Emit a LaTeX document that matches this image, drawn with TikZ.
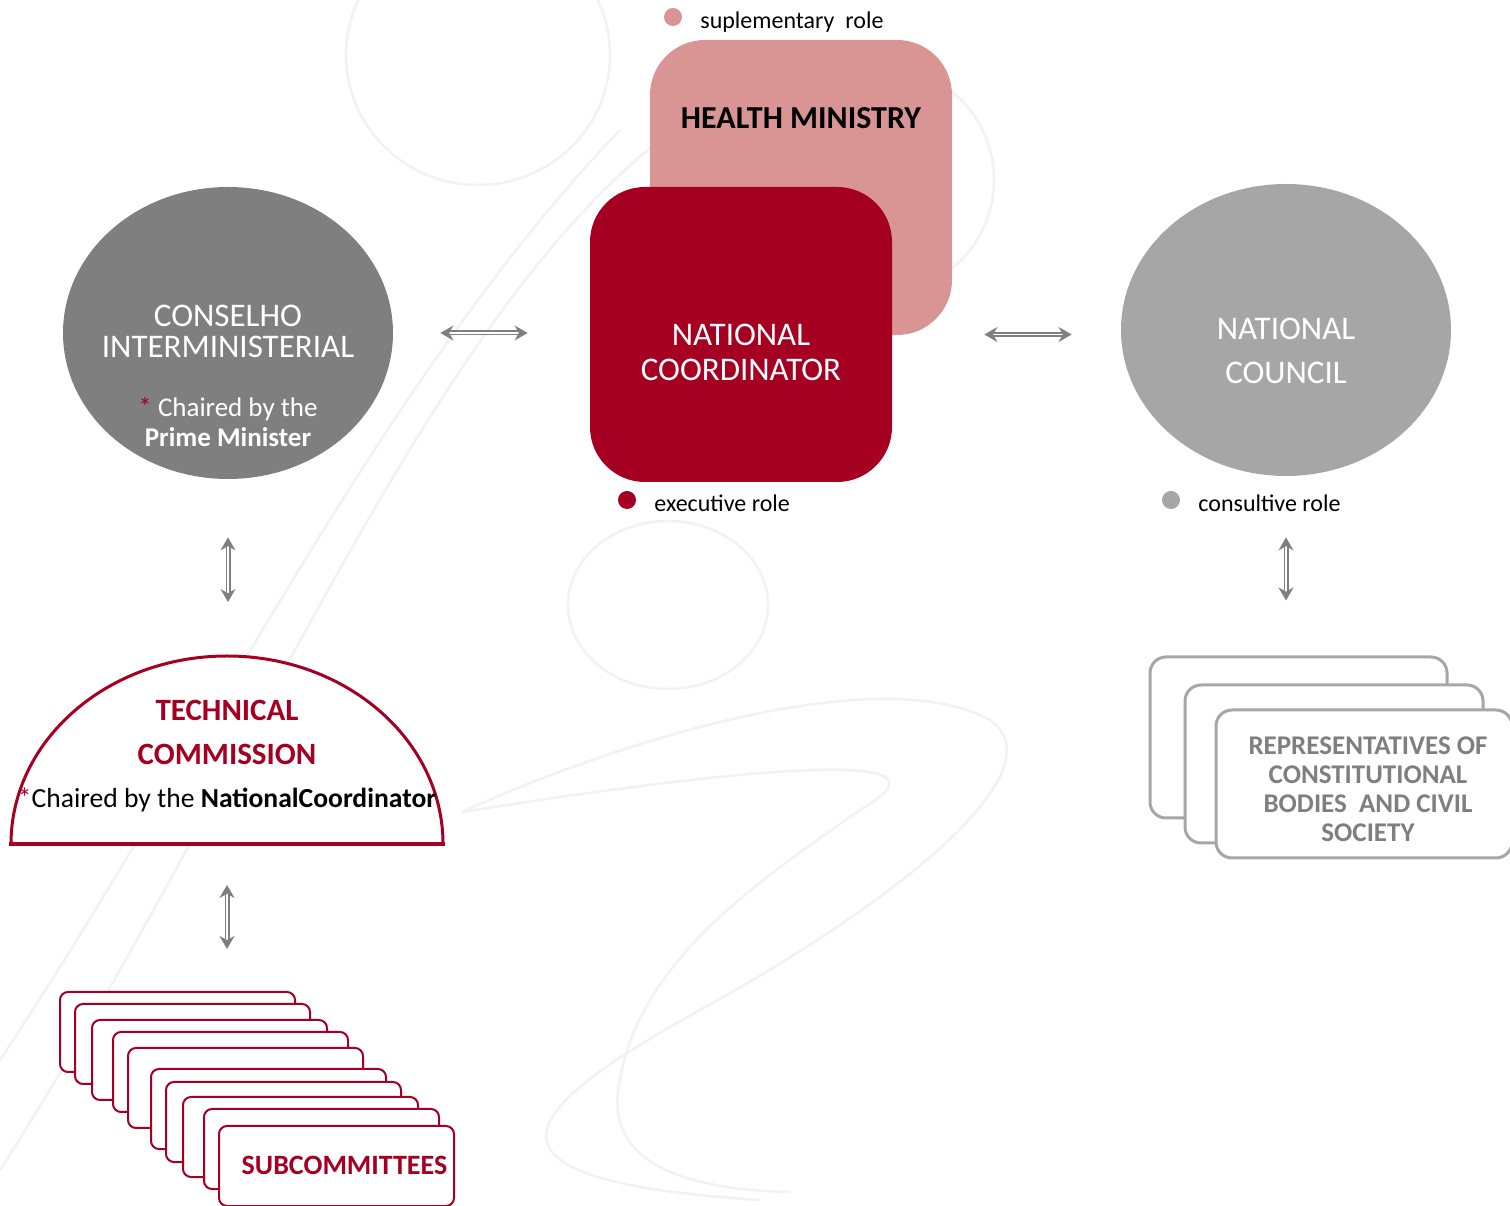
\documentclass[tikz,border=0pt]{standalone}
\usepackage{fontspec}
\setmainfont{Carlito}
\usepackage{xcolor}
\usetikzlibrary{shapes.geometric,arrows.meta,positioning}

\definecolor{execred}{HTML}{A50021}
\definecolor{suprose}{HTML}{D99594}
\definecolor{ciGray}{HTML}{7F7F7F}
\definecolor{cnGray}{HTML}{A6A6A6}

\tikzset{
    rolebox/.style={rounded corners=27.5pt, minimum width=151pt, minimum height=147.5pt, inner sep=0pt},
    bodyoval/.style={ellipse, minimum width=165pt, minimum height=146pt, inner sep=0pt},
    legenddot/.style={circle, minimum size=9pt, inner sep=0pt},
    legendtext/.style={anchor=base west, inner sep=0pt, font=\fontsize{12}{14}\selectfont},
    biarrow/.style={{Stealth[length=6.5pt,width=7.5pt]}-{Stealth[length=6.5pt,width=7.5pt]},
        draw=ciGray, line width=0.85pt, double=white, double distance=0.8pt},
    subcard/.style={draw=execred, line width=1pt, fill=white, rounded corners=4pt,
        minimum width=117.5pt, minimum height=40pt, inner sep=0pt},
    repcard/.style={draw=cnGray, line width=1.5pt, fill=white, rounded corners=8pt, inner sep=0pt},
    watermark/.style={draw=black!5, line width=1.3pt},
}

\begin{document}
\begin{tikzpicture}[x=0.5pt,y=0.5pt]
    \useasboundingbox (0,0) rectangle (1510,1205);

    % faint background logo
    \draw[watermark] (478,1150) ellipse [x radius=66pt, y radius=65pt];
    \draw[watermark] (880,1025) ellipse [x radius=57pt, y radius=57pt];
    \draw[watermark] (668,600) ellipse [x radius=50pt, y radius=42pt];
    \draw[watermark] (462,393) .. controls (620,465) and (880,545) .. (990,485)
        .. controls (1060,435) and (900,305) .. (700,195)
        .. controls (520,95) and (450,25) .. (760,5);
    \draw[watermark] (462,393) .. controls (600,415) and (1000,475) .. (860,395)
        .. controls (760,325) and (640,245) .. (620,125)
        .. controls (600,35) and (700,15) .. (790,13);
    \draw[watermark] (0,35) .. controls (250,425) and (420,875) .. (660,1065);
    \draw[watermark] (0,145) .. controls (200,445) and (380,825) .. (620,1075);

    % health ministry
    \node[rolebox, fill=suprose] (hm) at (801,1017.5) {};
    \node[font=\fontsize{16}{19}\selectfont\bfseries] (hmtext) at (801,1087) {HEALTH MINISTRY};

    % national coordinator
    \node[rolebox, fill=execred] (coord) at (741,870.5) {};
    \node[text=white, align=center, font=\fontsize{16.5}{17.5}\selectfont] (coordtext)
        at (741,852.5) {NATIONAL\\COORDINATOR};

    % legend
    \node[legenddot, fill=suprose] (supdot) at (673,1188) {};
    \node[legendtext] (suptext) at (700,1176) {suplementary\ \ role};
    \node[legenddot, fill=execred] (execdot) at (627,705) {};
    \node[legendtext] (exectext) at (654,693) {executive role};
    \node[legenddot, fill=cnGray] (consdot) at (1171,705) {};
    \node[legendtext] (constext) at (1198,693) {consultive role};

    % conselho interministerial
    \node[bodyoval, fill=ciGray] (cons) at (228,872) {};
    \node[text=white, align=center, font=\fontsize{16.5}{15.5}\selectfont] (constitle)
        at (228,873.5) {CONSELHO\\INTERMINISTERIAL};
    \node[text=white, align=center, font=\fontsize{13.5}{15}\selectfont] (conschair)
        at (228,783) {{\color{execred}*} Chaired by the\\\textbf{Prime Minister}};

    % national council
    \node[bodyoval, fill=cnGray] (council) at (1286,875) {};
    \node[text=white, align=center, font=\fontsize{16.5}{22}\selectfont] (counciltext)
        at (1286,854) {NATIONAL\\COUNCIL};

    % technical commission
    \coordinate (tcbase) at (227,361);
    \coordinate (tctop) at (227,549);
    \draw[execred, line width=1.5pt, fill=white] (11,361)
        arc[start angle=180, end angle=0, x radius=108pt, y radius=94pt];
    \draw[execred, line width=2pt] (9,361) -- (445,361);
    \node[text=execred, align=center, font=\fontsize{15.5}{22}\selectfont\bfseries] (tctitle)
        at (227,473) {TECHNICAL\\COMMISSION};
    \node[font=\fontsize{13.8}{15}\selectfont] (tcchair)
        at (227,405) {{\color{execred}*}Chaired by the \textbf{NationalCoordinator}};

    % subcommittees
    \foreach \n/\cx/\cy in {1/177.5/173, 2/192.5/161, 3/209.5/145, 4/230.5/133, 5/245.5/117,
        6/268.5/96, 7/283.5/83, 8/300.5/68, 9/321.5/56, 10/336.5/39}
        \node[subcard] (sub\n) at (\cx,\cy) {};
    \node[text=execred, font=\fontsize{14}{16}\selectfont\bfseries] (subtext)
        at (344.5,40) {SUBCOMMITTEES};

    % representatives
    \node[repcard, minimum width=148.5pt, minimum height=80.5pt] (rep1) at (1298.5,467.5) {};
    \node[repcard, minimum width=149pt, minimum height=79pt] (rep2) at (1334,441) {};
    \node[repcard, minimum width=148pt, minimum height=74pt] (rep3) at (1364,421) {};
    \node[text=ciGray, align=center, font=\fontsize{13.5}{14.5}\selectfont\bfseries] (reptext)
        at (1368,415.5) {REPRESENTATIVES OF\\CONSTITUTIONAL\\BODIES\ \ AND CIVIL\\SOCIETY};

    % links
    \draw[biarrow, shorten <=23.5pt, shorten >=31pt] (cons.east) -- (cons.east -| coord.west);
    \draw[biarrow, shorten <=46pt, shorten >=24.5pt] (coord.east) -- (coord.east -| council.west);
    \draw[biarrow, shorten <=29pt, shorten >=27pt] (cons.south) -- (cons.south |- tctop);
    \draw[biarrow, shorten <=20.5pt, shorten >=21pt] (tcbase) -- (tcbase |- sub1.north);
    \draw[biarrow, shorten <=30.5pt, shorten >=27.5pt] (council.south) -- (council.south |- rep1.north);
\end{tikzpicture}
\end{document}
